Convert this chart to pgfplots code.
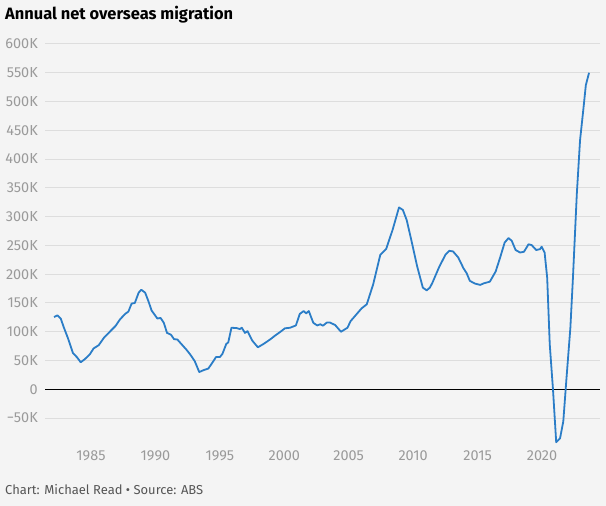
\documentclass[border=0pt]{standalone}
\usepackage{fontspec}
\setmainfont{Fira Sans}
\usepackage{pgfplots}
\pgfplotsset{compat=1.18}
\definecolor{bg}{HTML}{F4F4F4}
\definecolor{gridgray}{HTML}{DDDDDD}
\definecolor{ticktext}{HTML}{9A9A9A}
\definecolor{foot}{HTML}{555555}
\definecolor{lineblue}{HTML}{2B7DC7}
\begin{document}
\begin{tikzpicture}[x=1bp,y=1bp]
\fill[bg] (0,0) rectangle (606,506);
\begin{axis}[
  at={(45bp,62bp)}, anchor=south west,
  scale only axis, width=555bp, height=400bp,
  xmin=1981.43, xmax=2024.5, ymin=-95, ymax=600,
  axis line style={draw=none},
  tick style={draw=none}, major tick length=0pt,
  ymajorgrids, grid style={color=gridgray, line width=1bp},
  ytick={-50,0,50,100,150,200,250,300,350,400,450,500,550,600},
  yticklabels={−50K,0,50K,100K,150K,200K,250K,300K,350K,400K,450K,500K,550K,600K},
  xtick={1985,1990,1995,2000,2005,2010,2015,2020},
  xticklabels={1985,1990,1995,2000,2005,2010,2015,2020},
  yticklabel style={anchor=east, inner sep=0pt, xshift=-7bp, text=ticktext, font=\fontsize{14.5}{15}\selectfont},
  xticklabel style={anchor=north, inner sep=0pt, yshift=-6bp, text=ticktext, font=\fontsize{14.5}{15}\selectfont},
]
\addplot[black, line width=1bp] coordinates {(1981.43,0) (2024.5,0)};
\addplot[lineblue, line width=1.8bp, line join=round] coordinates {
(1982.13,125.6) (1982.4,128.5) (1982.65,123) (1982.9,107) (1983.2,89.5) (1983.6,63) (1983.9,56)
(1984.2,47) (1984.5,52) (1984.9,60.5) (1985.2,71) (1985.6,76.7) (1986.0,89.5) (1986.3,96.5)
(1986.9,110) (1987.25,121.5) (1987.65,131) (1987.9,135) (1988.15,149) (1988.4,150) (1988.7,168)
(1988.9,173) (1989.2,168) (1989.45,153.5) (1989.7,137) (1990.15,123) (1990.4,124) (1990.65,115.6)
(1990.9,98) (1991.2,95) (1991.45,87) (1991.7,86.6) (1992.0,79) (1992.4,69) (1992.7,60.5)
(1993.05,49) (1993.4,30) (1993.7,33) (1994.1,36) (1994.35,44) (1994.7,56) (1995.0,56)
(1995.2,61.6) (1995.5,79) (1995.65,81.4) (1995.9,107) (1996.3,106.4) (1996.55,104.7) (1996.7,107)
(1996.95,98) (1997.15,101) (1997.5,85) (1997.95,73) (1998.4,79) (1998.9,86.6) (1999.3,93.6)
(1999.7,100) (2000.05,106) (2000.45,107) (2000.9,111) (2001.2,131) (2001.5,136) (2001.7,132)
(2001.9,136) (2002.25,115.6) (2002.55,111) (2002.8,113) (2003.0,110.5) (2003.3,116) (2003.55,116)
(2003.95,111.6) (2004.4,100) (2004.9,107) (2005.15,118.6) (2005.55,129) (2006.0,140.7) (2006.4,147.7)
(2006.9,182.6) (2007.45,233.7) (2007.9,243.6) (2008.4,276.8) (2008.9,316) (2009.2,311.7) (2009.5,294)
(2009.9,255) (2010.3,214.5) (2010.75,176.7) (2011.05,172) (2011.3,176.7) (2011.5,185.5) (2012.0,211.6)
(2012.5,233.7) (2012.8,240.7) (2013.1,239.5) (2013.5,229) (2013.9,210.5) (2014.15,201.8) (2014.4,188.4)
(2014.8,183.7) (2015.2,181.4) (2015.5,184.3) (2015.95,187) (2016.4,204.6) (2016.75,229) (2017.1,255)
(2017.4,262.8) (2017.65,258) (2017.95,242) (2018.3,237.7) (2018.6,239) (2018.95,252) (2019.2,250.5)
(2019.55,242) (2019.85,243.6) (2019.97,247.7) (2020.2,237.7) (2020.4,194) (2020.6,78) (2020.85,0)
(2021.1,-92) (2021.4,-85) (2021.65,-55.8) (2021.9,19.7) (2022.2,107) (2022.4,194) (2022.7,339.5)
(2022.95,432.6) (2023.2,485) (2023.4,528.5) (2023.65,550)
};
\end{axis}
\node[anchor=base west, inner sep=0pt, font=\bfseries\fontsize{16.5}{19}\selectfont] at (5,486) {Annual net overseas migration};
\node[anchor=base west, inner sep=0pt, text=foot, font=\fontsize{13}{15}\selectfont] at (5,11) {Chart: Michael Read • Source: ABS};
\end{tikzpicture}
\end{document}
